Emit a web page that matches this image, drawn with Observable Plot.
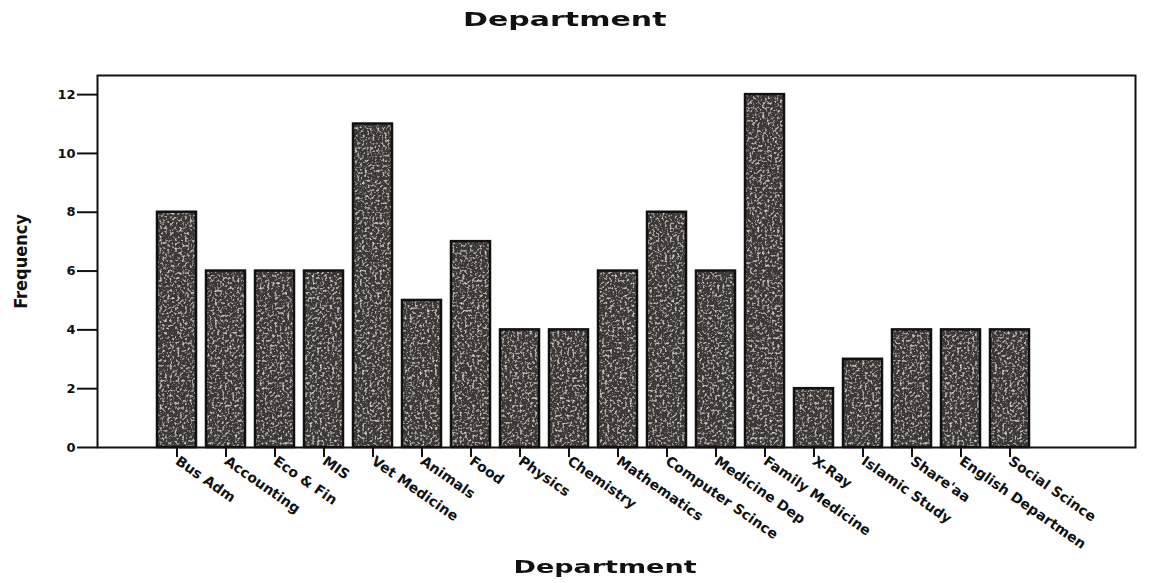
<!DOCTYPE html>
<html>
<head>
<meta charset="utf-8">
<script src="https://cdn.jsdelivr.net/npm/d3@7"></script>
<script src="https://cdn.jsdelivr.net/npm/@observablehq/plot@0.6"></script>
<style>
  html, body { margin: 0; padding: 0; background: #fff; }
  #wrap { width: 1154px; height: 583px; position: relative; overflow: hidden; }
  .ttl { width: 1154px; text-align: center; font-family: "DejaVu Sans", sans-serif; font-weight: bold; color: #111; }
  .ttl span { display: inline-block; transform: scaleX(1.5); }
  #title { height: 40px; line-height: 38px; font-size: 20px; padding-right: 24px; box-sizing: border-box; }
  #xlabel { height: 38px; line-height: 44px; font-size: 18px; padding-left: 56px; box-sizing: border-box; }
  svg { display: block; }
</style>
</head>
<body>
<div id="wrap">
  <div id="title" class="ttl"><span>Department</span></div>
  <div id="chart"></div>
  <div id="xlabel" class="ttl"><span>Department</span></div>
</div>
<script>
const departments = [
  "Bus Adm", "Accounting", "Eco & Fin", "MIS", "Vet Medicine", "Animals",
  "Food", "Physics", "Chemistry", "Mathematics", "Computer Scince", "Medicine Dep",
  "Family Medicine", "X-Ray", "Islamic Study", "Share'aa", "English Departmen", "Social Scince"
];
const frequencies = [8, 6, 6, 6, 11, 5, 7, 4, 4, 6, 8, 6, 12, 2, 3, 4, 4, 4];
const yTicks = [0, 2, 4, 6, 8, 10, 12];

const data = departments.map((d, i) => ({department: d, frequency: frequencies[i]}));

const chart = Plot.plot({
  width: 1154,
  height: 505,
  marginTop: 35,
  marginBottom: 98,
  marginLeft: 97,
  marginRight: 19,
  style: {background: "#fff", color: "#111", overflow: "visible"},
  x: {domain: departments, padding: 0.2, insetLeft: 43, insetRight: 88},
  y: {domain: [0, 12.65]},
  marks: [
    Plot.barY(data, {x: "department", y: "frequency", fill: "#3d3735", className: "grainbars"}),
    Plot.barY(data, {x: "department", y: "frequency", fill: "none", stroke: "#111", strokeWidth: 2.5}),
    Plot.frame({stroke: "#111", strokeWidth: 2}),
    Plot.axisY({ticks: yTicks, tickSize: 20, tickPadding: 2, strokeWidth: 2, fontSize: 13, fontWeight: "bold",
                fontFamily: "DejaVu Sans, sans-serif", label: null}),
    Plot.axisX({tickSize: 10, tickPadding: 2, tickRotate: 35, strokeWidth: 2, fontSize: 14, fontWeight: "bold",
                fontFamily: "DejaVu Sans, sans-serif", label: null}),
    Plot.text(["Frequency"], {frameAnchor: "left", dx: -76, rotate: -90, textAnchor: "middle", fontSize: 18,
                fontWeight: "bold", lineAnchor: "middle",
                fontFamily: "'Liberation Sans Narrow', 'DejaVu Sans Condensed', sans-serif", fill: "#111"})
  ]
});

// speckled texture on the bar fills, like the scanned original
const ns = "http://www.w3.org/2000/svg";
const defs = document.createElementNS(ns, "defs");
defs.innerHTML = `
  <filter id="grain" x="0" y="0" width="1" height="1">
    <feTurbulence type="fractalNoise" baseFrequency="0.4" numOctaves="2" seed="4" result="noise"/>
    <feColorMatrix in="noise" type="matrix"
      values="0 0 0 0 0.72  0 0 0 0 0.69  0 0 0 0 0.67  -3 0 0 0 1.45" result="speck"/>
    <feComposite in="speck" in2="SourceGraphic" operator="atop"/>
  </filter>`;
chart.insertBefore(defs, chart.firstChild);
const barGroup = chart.querySelector("g.grainbars") || chart.querySelector('g[aria-label="bar"]');
if (barGroup) barGroup.setAttribute("filter", "url(#grain)");

document.getElementById("chart").appendChild(chart);
</script>
</body>
</html>
